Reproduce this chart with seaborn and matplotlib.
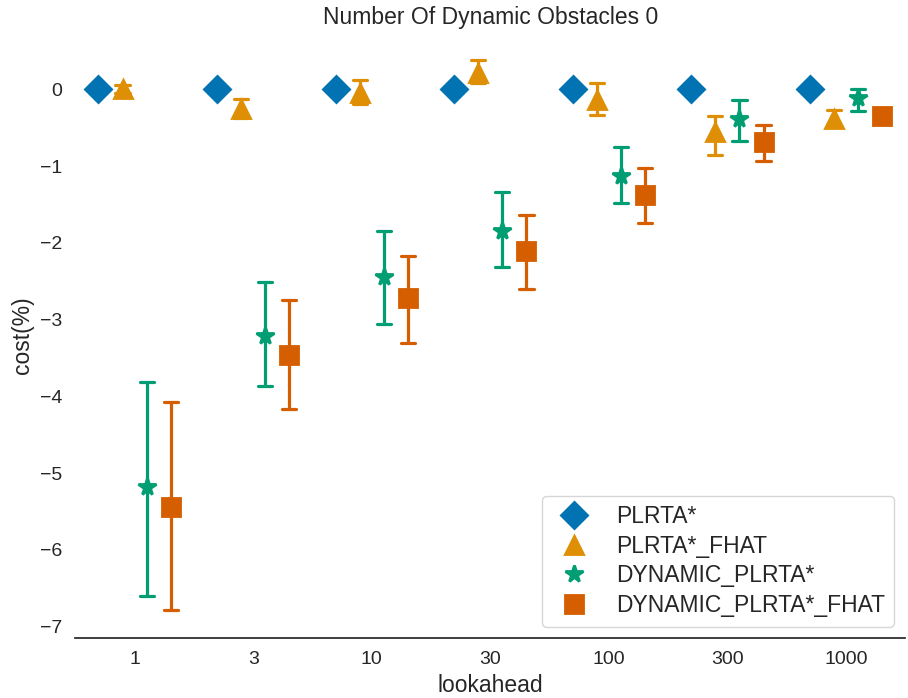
import numpy as np
import pandas as pd
import seaborn as sns
import matplotlib
matplotlib.use("Agg")
import matplotlib.pyplot as plt

lookahead = ["1", "3", "10", "30", "100", "300", "1000"]
methods = ["PLRTA*", "PLRTA*_FHAT", "DYNAMIC_PLRTA*", "DYNAMIC_PLRTA*_FHAT"]

# mean cost per lookahead
plrta_mean = [0, 0, 0, 0, 0, 0, 0]
plrta_lo = [0, 0, 0, 0, 0, 0, 0]
plrta_hi = [0, 0, 0, 0, 0, 0, 0]

fhat_mean = [0.01, -0.26, -0.04, 0.22, -0.14, -0.55, -0.39]
fhat_lo = [-0.04, -0.37, -0.19, 0.08, -0.33, -0.86, -0.48]
fhat_hi = [0.06, -0.12, 0.12, 0.38, 0.09, -0.35, -0.27]

dyn_mean = [-5.18, -3.21, -2.45, -1.84, -1.13, -0.39, -0.11]
dyn_lo = [-6.60, -3.86, -3.06, -2.32, -1.48, -0.67, -0.28]
dyn_hi = [-3.81, -2.51, -1.85, -1.34, -0.75, -0.14, 0.01]

dynf_mean = [-5.44, -3.46, -2.72, -2.11, -1.38, -0.68, -0.34]
dynf_lo = [-6.79, -4.16, -3.30, -2.60, -1.74, -0.93, -0.43]
dynf_hi = [-4.07, -2.74, -2.17, -1.64, -1.02, -0.46, -0.25]

series = {
    "PLRTA*": (plrta_lo, plrta_mean, plrta_hi),
    "PLRTA*_FHAT": (fhat_lo, fhat_mean, fhat_hi),
    "DYNAMIC_PLRTA*": (dyn_lo, dyn_mean, dyn_hi),
    "DYNAMIC_PLRTA*_FHAT": (dynf_lo, dynf_mean, dynf_hi),
}

rows = []
for m in methods:
    lo, mid, hi = series[m]
    for i, la in enumerate(lookahead):
        for v in (lo[i], mid[i], hi[i]):
            rows.append({"lookahead": la, "algorithm": m, "cost(%)": v})
df = pd.DataFrame(rows)

sns.set_theme(style="white", palette="colorblind")
plt.rcParams["font.family"] = ["Liberation Sans", "DejaVu Sans"]

fig, ax = plt.subplots(figsize=(9.08, 6.98), dpi=100)
sns.pointplot(
    data=df, x="lookahead", y="cost(%)", hue="algorithm",
    order=lookahead, hue_order=methods,
    estimator=np.median, errorbar=lambda v: (np.min(v), np.max(v)),
    markers=["D", "^", "*", "s"], linestyles="none",
    dodge=0.61, capsize=0.12, markersize=13,
    err_kws={"linewidth": 2.3}, ax=ax,
)
sns.despine(left=True)
ax.set_title("Number Of Dynamic Obstacles 0", fontsize=16.5)
ax.set_xlabel("lookahead", fontsize=16.5)
ax.set_ylabel("cost(%)", fontsize=16.5)
ax.tick_params(axis="both", labelsize=14)
leg = ax.legend(loc="lower right", fontsize=16.5, markerscale=1.0,
                labelspacing=0.3, title=None)
fig.subplots_adjust(left=0.083, right=0.997, top=0.953, bottom=0.086)
fig.savefig("out.png", dpi=100)
